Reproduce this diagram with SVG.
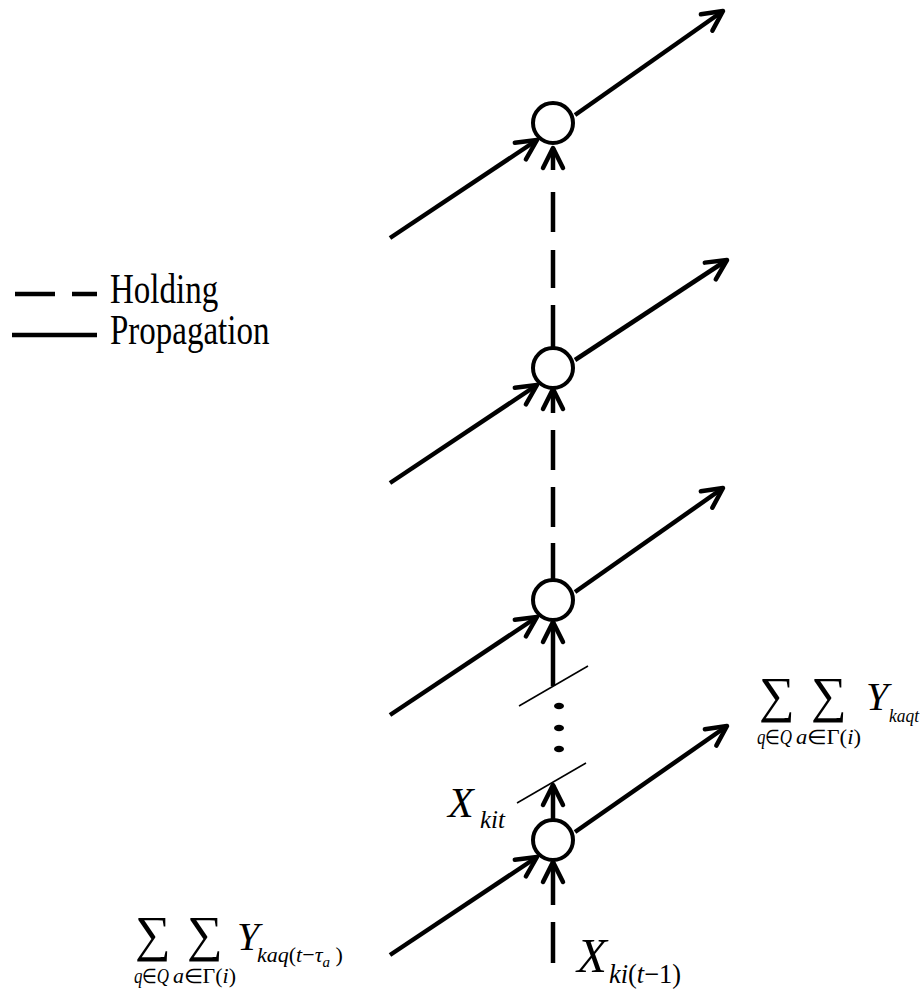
<svg xmlns="http://www.w3.org/2000/svg" width="922" height="998" viewBox="0 0 922 998">
<style>
.ln{stroke:#000;stroke-width:4.5;fill:none}
.ar{marker-end:url(#arr)}
.nd{fill:#fff;stroke:#000;stroke-width:4}
.sl{stroke:#000;stroke-width:1.5}
.t{font-family:"Liberation Serif","Times New Roman",serif;fill:#000}
.i{font-style:italic}
</style>
<defs>
<marker id="arr" markerUnits="userSpaceOnUse" orient="auto" refX="0" refY="0" markerWidth="40" markerHeight="40" overflow="visible">
<path d="M-20,-10 L0,0 L-20,10" fill="none" stroke="#000" stroke-width="4.5" stroke-linecap="round" stroke-linejoin="round"/>
</marker>
</defs>
<rect width="922" height="998" fill="#fff"/>
<g id="legend">
<line class="ln" x1="15" y1="294" x2="97" y2="294" stroke-dasharray="40 17"/>
<line class="ln" x1="12" y1="335" x2="97" y2="335"/>
<text class="t" transform="translate(110,303) scale(1,1.27)" font-size="33">Holding</text>
<text class="t" transform="translate(110,344) scale(1,1.27)" font-size="33">Propagation</text>
</g>
<g id="connectors">
<line class="ln ar" x1="390" y1="238" x2="537" y2="140"/>
<line class="ln ar" x1="575" y1="115" x2="723" y2="11"/>
<line class="ln ar" x1="390" y1="483" x2="537" y2="385"/>
<line class="ln ar" x1="575" y1="360" x2="727" y2="260"/>
<line class="ln ar" x1="390" y1="715" x2="537" y2="617"/>
<line class="ln ar" x1="575" y1="592" x2="723" y2="488"/>
<line class="ln ar" x1="390" y1="955" x2="537" y2="857"/>
<line class="ln ar" x1="575" y1="832" x2="727" y2="726"/>
<line class="ln ar" x1="553" y1="348" x2="553" y2="148" stroke-dasharray="43 17 38 18 40 22 22"/>
<line class="ln ar" x1="553" y1="580" x2="553" y2="389" stroke-dasharray="37 16 40 17 40 17 24"/>
<line class="ln ar" x1="553" y1="686" x2="553" y2="622"/>
<line class="ln ar" x1="553" y1="819" x2="553" y2="785"/>
<line class="ln ar" x1="553" y1="963" x2="553" y2="862" stroke-dasharray="41 17 43"/>
<line class="sl" x1="519" y1="706" x2="588" y2="666"/>
<line class="sl" x1="517" y1="803" x2="586" y2="763"/>
<ellipse cx="559" cy="706" rx="5" ry="3.2"/>
<ellipse cx="559" cy="728" rx="5" ry="3.2"/>
<ellipse cx="559" cy="749" rx="5" ry="3.2"/>
</g>
<g id="n1"><circle class="nd" cx="553" cy="123" r="20"/></g>
<g id="n2"><circle class="nd" cx="553" cy="368" r="20"/></g>
<g id="n3"><circle class="nd" cx="553" cy="600" r="20"/></g>
<g id="n4"><circle class="nd" cx="553" cy="840" r="20"/></g>
<g id="labels">
<text class="t i" x="448" y="817" font-size="42">X</text>
<text class="t i" x="480" y="828" font-size="25">kit</text>
<text class="t i" x="577" y="972" font-size="49">X</text>
<text class="t" x="609" y="983" font-size="27" textLength="72" lengthAdjust="spacingAndGlyphs"><tspan class="i">ki</tspan>(<tspan class="i">t</tspan>−1)</text>
<g id="sumR">
<text class="t" x="759" y="712" font-size="50">∑</text>
<text class="t" x="811" y="712" font-size="50">∑</text>
<text class="t i" x="866" y="710" font-size="40">Y</text>
<text class="t i" x="889" y="722" font-size="19" textLength="30" lengthAdjust="spacingAndGlyphs">kaqt</text>
<text class="t" x="757" y="744" font-size="20" textLength="35" lengthAdjust="spacingAndGlyphs"><tspan class="i">q</tspan>∈<tspan class="i">Q</tspan></text>
<text class="t" x="796" y="744" font-size="20" textLength="65" lengthAdjust="spacingAndGlyphs"><tspan class="i">a</tspan>∈Γ(<tspan class="i">i</tspan>)</text>
</g>
<g id="sumL">
<text class="t" x="135" y="951" font-size="50">∑</text>
<text class="t" x="187" y="951" font-size="50">∑</text>
<text class="t i" x="237" y="950" font-size="40">Y</text>
<text class="t" x="257" y="962" font-size="22"><tspan class="i">kaq</tspan>(<tspan class="i">t</tspan>−<tspan class="i">τ</tspan><tspan class="i" font-size="15" dy="5">a</tspan><tspan dy="-5"> )</tspan></text>
<text class="t" x="134" y="983" font-size="20" textLength="35" lengthAdjust="spacingAndGlyphs"><tspan class="i">q</tspan>∈<tspan class="i">Q</tspan></text>
<text class="t" x="173" y="983" font-size="20" textLength="63" lengthAdjust="spacingAndGlyphs"><tspan class="i">a</tspan>∈Γ(<tspan class="i">i</tspan>)</text>
</g>
</g>
</svg>
